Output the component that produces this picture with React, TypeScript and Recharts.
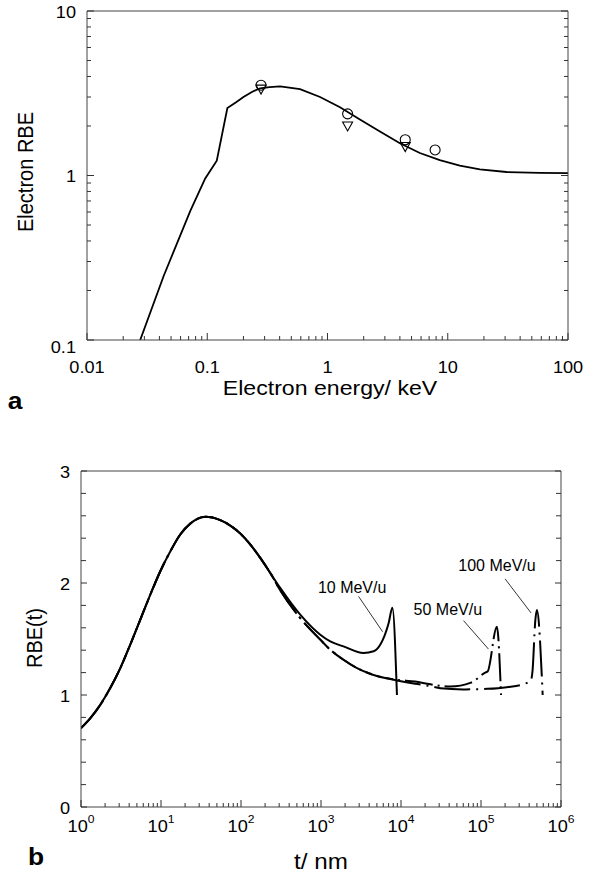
import React from 'react';
import {
  ComposedChart,
  LineChart,
  Line,
  Scatter,
  XAxis,
  YAxis,
  ReferenceLine,
  ReferenceDot,
} from 'recharts';

const FONT = '"Liberation Sans", Arial, Helvetica, sans-serif';

// ---- panel a: electron RBE vs energy ----
const energyKeV = [0.0277, 0.0434, 0.0723, 0.0962, 0.12, 0.147, 0.175, 0.2, 0.235, 0.275, 0.33, 0.403, 0.591, 0.867, 1.27, 1.86, 2.73, 4.0, 5.86, 8.59, 12.6, 18.5, 30.8, 58.2, 100];
const electronRbe = [0.1, 0.245, 0.61, 0.96, 1.23, 2.57, 2.8, 3.0, 3.22, 3.39, 3.45, 3.48, 3.35, 3.0, 2.6, 2.19, 1.85, 1.57, 1.37, 1.24, 1.147, 1.09, 1.05, 1.037, 1.035];

const circleEnergy = [0.28, 1.47, 4.43, 7.85];
const circleRbe = [3.54, 2.37, 1.65, 1.43];
const triangleEnergy = [0.28, 1.47, 4.43];
const triangleRbe = [3.35, 2.0, 1.5];

const aXDecades = [0.01, 0.1, 1, 10, 100];
const aXLabels = ['0.01', '0.1', '1', '10', '100'];
const aYDecades = [0.1, 1, 10];
const aYLabels = ['0.1', '1', '10'];

// ---- panel b: RBE(t) vs track length ----
const sharedT = [1, 1.31, 1.74, 2.32, 3.1, 4.13, 5.51, 7.35, 9.8, 13.1, 17.4, 23.2, 35.8, 55.1, 73.5, 98, 131, 174, 232];
const sharedRbe = [0.704, 0.793, 0.912, 1.062, 1.24, 1.45, 1.673, 1.896, 2.105, 2.284, 2.433, 2.53, 2.591, 2.561, 2.513, 2.442, 2.343, 2.224, 2.09];

const tail10T = [309, 550, 980, 1306, 1910, 3400, 4550, 5520, 7000, 7800, 8900];
const tail10Rbe = [1.956, 1.717, 1.538, 1.478, 1.434, 1.375, 1.39, 1.45, 1.64, 1.78, 1.0];

const tail50T = [309, 550, 980, 1306, 1910, 2820, 5000, 8900, 15000, 23200, 41000, 75000, 113000, 121000, 158000, 178000];
const tail50Rbe = [1.935, 1.687, 1.494, 1.404, 1.315, 1.24, 1.17, 1.136, 1.12, 1.095, 1.075, 1.11, 1.2, 1.21, 1.61, 1.0];

const tail100T = [309, 550, 980, 1306, 1910, 2820, 5000, 8900, 15000, 23200, 31000, 60000, 120000, 210000, 370000, 422000, 440000, 478000, 500000, 590000];
const tail100Rbe = [1.935, 1.687, 1.494, 1.404, 1.315, 1.24, 1.17, 1.13, 1.1, 1.08, 1.06, 1.05, 1.055, 1.07, 1.106, 1.136, 1.21, 1.67, 1.76, 1.0];

const bXDecades = [1, 10, 100, 1e3, 1e4, 1e5, 1e6];
const bXExponents = ['0', '1', '2', '3', '4', '5', '6'];
const bYMajor = [0, 1, 2, 3];
const bYLabels = ['0', '1', '2', '3'];

const annoText = ['10 MeV/u', '50 MeV/u', '100 MeV/u'];
const annoTextT = [2450, 38500, 158500];
const annoTextRbe = [1.963, 1.762, 2.157];
const leaderFromT = [2950, 60500, 200000];
const leaderFromRbe = [1.88, 1.664, 2.037];
const leaderToT = [5890, 124000, 422000];
const leaderToRbe = [1.565, 1.41, 1.733];

const zip = (xs: number[], ys: number[], kx: string, ky: string) =>
  xs.map((v, i) => ({ [kx]: v, [ky]: ys[i] }));

const curveA = zip(energyKeV, electronRbe, 'e', 'rbe');
const circlesA = zip(circleEnergy, circleRbe, 'e', 'rbe');
const trianglesA = zip(triangleEnergy, triangleRbe, 'e', 'rbe');

const mev10 = zip([...sharedT, ...tail10T], [...sharedRbe, ...tail10Rbe], 't', 'rbe');
const mev50 = zip([...sharedT, ...tail50T], [...sharedRbe, ...tail50Rbe], 't', 'rbe');
const mev100 = zip([...sharedT, ...tail100T], [...sharedRbe, ...tail100Rbe], 't', 'rbe');

// 1..9 x each decade, plus the last decade
const logTicks = (decades: number[]) =>
  decades.flatMap((d, i) =>
    i === decades.length - 1 ? [d] : [1, 2, 3, 4, 5, 6, 7, 8, 9].map((k) => +(k * d).toPrecision(6))
  );
const bYTicks = Array.from({ length: 16 }, (_, i) => Math.round(i * 2) / 10);

const majorIndex = (v: number, majors: number[]) =>
  majors.findIndex((m) => Math.abs(v - m) <= Math.abs(m) * 1e-6 + 1e-9);

type Side = 'bottom' | 'top' | 'left' | 'right';

const FrameTick = (props: any) => {
  const { x, y, payload, side, majors, labels, sup, majorLen, minorLen, gap, dyLabel } = props;
  const idx = majorIndex(payload.value, majors);
  const len = idx >= 0 ? majorLen : minorLen;
  let x2 = x;
  let y2 = y;
  if (side === 'bottom') y2 = y - len;
  if (side === 'top') y2 = y + len;
  if (side === 'left') x2 = x + len;
  if (side === 'right') x2 = x - len;
  const showLabel = idx >= 0 && labels && (side === 'bottom' || side === 'left');
  const extra = dyLabel ? dyLabel[idx] || 0 : 0;
  return (
    <g>
      <line x1={x} y1={y} x2={x2} y2={y2} stroke="#333" strokeWidth={1} />
      {showLabel && side === 'bottom' && (
        <text
          transform={`translate(${x},${y + gap}) scale(1.1,1)`}
          textAnchor="middle"
          dominantBaseline="central"
          fontSize={16.5}
          fill="#000"
        >
          {sup ? '10' : labels[idx]}
          {sup && (
            <tspan dy={-7} fontSize={11}>
              {labels[idx]}
            </tspan>
          )}
        </text>
      )}
      {showLabel && side === 'left' && (
        <text
          transform={`translate(${x - gap},${y + 1 + extra}) scale(1.1,1)`}
          textAnchor="end"
          dominantBaseline="central"
          fontSize={16.5}
          fill="#000"
        >
          {labels[idx]}
        </text>
      )}
    </g>
  );
};

const tickFor = (side: Side, majors: number[], labels: string[] | null, opts: any) => (p: any) =>
  <FrameTick {...p} side={side} majors={majors} labels={labels} {...opts} />;

const Title = ({ text, cx, cy, size, rotate, bold }: any) => (
  <div
    style={{
      position: 'absolute',
      left: cx,
      top: cy,
      transform: `translate(-50%, -50%)${rotate ? ' rotate(-90deg) scale(1, 1.1)' : ' scale(1.1, 1)'}`,
      fontSize: size,
      lineHeight: 1,
      whiteSpace: 'nowrap',
      fontWeight: bold ? 'bold' : 'normal',
      color: '#000',
    }}
  >
    {text}
  </div>
);

const AXIS = '#444';

const CircleMark = (p: any) => <circle cx={p.cx} cy={p.cy} r={5} fill="none" stroke="#000" strokeWidth={1.1} />;
const TriangleMark = (p: any) => (
  <path
    d={`M${p.cx - 5},${p.cy - 4} L${p.cx + 5},${p.cy - 4} L${p.cx},${p.cy + 5} Z`}
    fill="none"
    stroke="#000"
    strokeWidth={1.1}
  />
);

// axes get a 1px band (zero-sized axes are not drawn), margins are reduced to match
const axisBand = { tickSize: 0, tickMargin: 0, interval: 0 as const, allowDataOverflow: true, stroke: AXIS };

export default function App() {
  const aX = logTicks(aXDecades);
  const aY = logTicks(aYDecades);
  const bX = logTicks(bXDecades);

  return (
    <div style={{ position: 'absolute', left: 0, top: 0, width: 601, height: 881, background: '#fff', fontFamily: FONT }}>
      {/* panel a */}
      <div style={{ position: 'absolute', left: 0, top: 0 }}>
        <ComposedChart width={601} height={420} margin={{ top: 10, right: 32, bottom: 79, left: 86 }}>
          <XAxis
            {...axisBand}
            xAxisId="b"
            dataKey="e"
            type="number"
            scale="log"
            domain={[0.01, 100]}
            ticks={aX}
            height={1}
            tick={tickFor('bottom', aXDecades, aXLabels, { majorLen: 7, minorLen: 4, gap: 27 })}
          />
          <XAxis
            {...axisBand}
            xAxisId="t"
            orientation="top"
            type="number"
            scale="log"
            domain={[0.01, 100]}
            ticks={aX}
            height={1}
            tick={tickFor('top', aXDecades, null, { majorLen: 7, minorLen: 4 })}
          />
          <YAxis
            {...axisBand}
            yAxisId="l"
            dataKey="rbe"
            type="number"
            scale="log"
            domain={[0.1, 10]}
            ticks={aY}
            width={1}
            tick={tickFor('left', aYDecades, aYLabels, { majorLen: 7, minorLen: 4, gap: 11, dyLabel: [6, 0, 0] })}
          />
          <YAxis
            {...axisBand}
            yAxisId="r"
            orientation="right"
            type="number"
            scale="log"
            domain={[0.1, 10]}
            ticks={aY}
            width={1}
            tick={tickFor('right', aYDecades, null, { majorLen: 7, minorLen: 4 })}
          />
          <Line
            xAxisId="b"
            yAxisId="l"
            data={curveA}
            dataKey="rbe"
            type="linear"
            stroke="#000"
            strokeWidth={1.8}
            dot={false}
            activeDot={false}
            isAnimationActive={false}
          />
          <Scatter xAxisId="b" yAxisId="l" data={circlesA} dataKey="rbe" shape={CircleMark} isAnimationActive={false} />
          <Scatter xAxisId="b" yAxisId="l" data={trianglesA} dataKey="rbe" shape={TriangleMark} isAnimationActive={false} />
        </ComposedChart>
      </div>

      {/* panel b */}
      <div style={{ position: 'absolute', left: 0, top: 420 }}>
        <LineChart width={601} height={461} margin={{ top: 50, right: 39, bottom: 73, left: 80 }}>
          <XAxis
            {...axisBand}
            xAxisId="b"
            dataKey="t"
            type="number"
            scale="log"
            domain={[1, 1e6]}
            ticks={bX}
            height={1}
            tick={tickFor('bottom', bXDecades, bXExponents, { majorLen: 7, minorLen: 4, gap: 19, sup: true })}
          />
          <XAxis
            {...axisBand}
            xAxisId="t"
            orientation="top"
            type="number"
            scale="log"
            domain={[1, 1e6]}
            ticks={bX}
            height={1}
            tick={tickFor('top', bXDecades, null, { majorLen: 7, minorLen: 4 })}
          />
          <YAxis
            {...axisBand}
            yAxisId="l"
            dataKey="rbe"
            type="number"
            domain={[0, 3]}
            ticks={bYTicks}
            width={1}
            tick={tickFor('left', bYMajor, bYLabels, { majorLen: 6, minorLen: 5, gap: 11 })}
          />
          <YAxis
            {...axisBand}
            yAxisId="r"
            orientation="right"
            type="number"
            domain={[0, 3]}
            ticks={bYTicks}
            width={1}
            tick={tickFor('right', bYMajor, null, { majorLen: 6, minorLen: 5 })}
          />
          <Line
            xAxisId="b"
            yAxisId="l"
            data={mev100}
            dataKey="rbe"
            type="monotone"
            stroke="#000"
            strokeWidth={2}
            strokeDasharray="36 6 2 6"
            dot={false}
            activeDot={false}
            isAnimationActive={false}
          />
          <Line
            xAxisId="b"
            yAxisId="l"
            data={mev50}
            dataKey="rbe"
            type="monotone"
            stroke="#000"
            strokeWidth={2}
            strokeDasharray="28 5 2 5"
            dot={false}
            activeDot={false}
            isAnimationActive={false}
          />
          <Line
            xAxisId="b"
            yAxisId="l"
            data={mev10}
            dataKey="rbe"
            type="monotone"
            stroke="#000"
            strokeWidth={2}
            dot={false}
            activeDot={false}
            isAnimationActive={false}
          />
          {annoText.map((txt, i) => (
            <ReferenceLine
              key={'l' + i}
              xAxisId="b"
              yAxisId="l"
              segment={[
                { x: leaderFromT[i], y: leaderFromRbe[i] },
                { x: leaderToT[i], y: leaderToRbe[i] },
              ]}
              stroke="#000"
              strokeWidth={0.8}
            />
          ))}
          {annoText.map((txt, i) => (
            <ReferenceDot
              key={'d' + i}
              xAxisId="b"
              yAxisId="l"
              x={annoTextT[i]}
              y={annoTextRbe[i]}
              r={1}
              fill="none"
              stroke="none"
              label={{ value: txt, position: 'center', fontSize: 16, fill: '#000' }}
            />
          ))}
        </LineChart>
      </div>

      <Title text="Electron energy/ keV" cx={330} cy={387} size={21} />
      <Title text="Electron RBE" cx={25} cy={172} size={20} rotate />
      <Title text="a" cx={15} cy={401} size={24} bold />
      <Title text="t/ nm" cx={321} cy={862} size={22} />
      <Title text="RBE(t)" cx={34} cy={638} size={20} rotate />
      <Title text="b" cx={36} cy={857} size={24} bold />
    </div>
  );
}
